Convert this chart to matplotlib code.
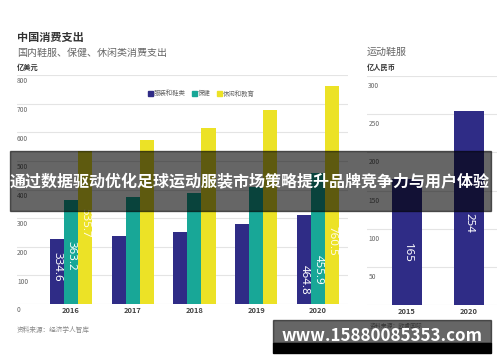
import matplotlib.pyplot as plt
from matplotlib.patches import Rectangle
import numpy as np

plt.rcParams['font.family'] = ['Noto Sans CJK SC', 'DejaVu Sans']

# 数据
years = ['2016', '2017', '2018', '2019', '2020']
apparel = [227, 238, 252, 280, 311]
health = [363.2, 375, 389, 410, 455.9]
leisure = [535.7, 573, 615, 678, 760.5]
apparel_lbl = ['334.6', '', '', '', '464.8']
health_lbl = ['363.2', '', '', '', '455.9']
leisure_lbl = ['535.7', '', '', '', '760.5']

sport_years = ['2015', '2020']
sport = [165, 254]
sport_lbl = ['165', '254']

c_blue = '#2f2c86'
c_teal = '#18a797'
c_yellow = '#ece226'
grid_c = '#e4e4e4'
txt_gray = '#666666'

W, H = 500, 362
fig = plt.figure(figsize=(5, 3.62), dpi=100)
fig.patch.set_facecolor('white')


def box(x0, x1, ytop, ybot):
    return [x0 / W, 1 - ybot / H, (x1 - x0) / W, (ybot - ytop) / H]


def ftext(x, y, s, **kw):
    fig.text(x / W, 1 - y / H, s, **kw)


# 左图
ax = fig.add_axes(box(17, 348, 75, 304))
x = np.arange(len(years))
bw = 0.227
ax.bar(x - bw, apparel, bw, color=c_blue, zorder=2)
ax.bar(x, health, bw, color=c_teal, zorder=2)
ax.bar(x + bw, leisure, bw, color=c_yellow, zorder=2)
ax.set_xlim(-0.874, 4.486)
ax.set_ylim(0, 800)
for v in range(0, 801, 100):
    ax.axhline(v, color=grid_c, lw=0.8, zorder=1)
    ax.text(0, v - 8, str(v), transform=ax.get_yaxis_transform(),
            fontsize=4.8, color=txt_gray, va='top', ha='left')
for sp in ax.spines.values():
    sp.set_visible(False)
ax.set_yticks([])
ax.set_xticks(x)
ax.set_xticklabels(years, fontsize=5.4, fontweight='bold', color='#444444')
ax.tick_params(axis='x', length=0, pad=2)

# 柱内数值位置
lbl_pos = {0: (129, 167, 282), 4: (84, 118, 220)}
for i, (yb, yt, yy) in lbl_pos.items():
    ax.text(x[i] - bw, yb, apparel_lbl[i], rotation=270, ha='center', va='center',
            fontsize=8.3, color='white', family='Noto Sans')
    ax.text(x[i], yt, health_lbl[i], rotation=270, ha='center', va='center',
            fontsize=8.3, color='white', family='Noto Sans')
    ax.text(x[i] + bw, yy, leisure_lbl[i], rotation=270, ha='center', va='center',
            fontsize=8.3, color='#fffbe6', family='Noto Sans')

# 图例
for sx, col, lab in [(148, c_blue, '服装和鞋类'), (192, c_teal, '保健'), (217, c_yellow, '休闲和教育')]:
    fig.patches.append(Rectangle((sx / W, 1 - 96 / H), 4.5 / W, 4.5 / H,
                                 transform=fig.transFigure, color=col))
    ftext(sx + 6, 93.5, lab, fontsize=4.6, color=txt_gray, va='center')

# 右图
ax2 = fig.add_axes(box(367, 497, 76, 305))
x2 = np.arange(len(sport_years))
ax2.bar(x2, sport, 0.484, color=c_blue, zorder=2)
ax2.set_xlim(-0.645, 1.452)
ax2.set_ylim(0, 300)
for v in range(0, 301, 50):
    ax2.axhline(v, color=grid_c, lw=0.8, zorder=1)
    if v > 0:
        ax2.text(0.01, v - 8, str(v), transform=ax2.get_yaxis_transform(),
                 fontsize=4.8, color=txt_gray, va='top', ha='left')
for sp in ax2.spines.values():
    sp.set_visible(False)
ax2.set_yticks([])
ax2.set_xticks(x2)
ax2.set_xticklabels(sport_years, fontsize=5.4, fontweight='bold', color='#444444')
ax2.tick_params(axis='x', length=0, pad=2)
for i, yl in enumerate([68, 108]):
    ax2.text(x2[i], yl, sport_lbl[i], rotation=270, ha='center', va='center',
             fontsize=8.3, color='white', family='Noto Sans')

# 标题
ftext(17, 37, '中国消费支出', fontsize=8, fontweight='bold', color='#333333', va='center')
ftext(17, 53, '国内鞋服、保健、休闲类消费支出', fontsize=7.2, color=txt_gray, va='center')
ftext(17, 67, '亿美元', fontsize=5.2, fontweight='bold', color='#333333', va='center')
ftext(367, 52, '运动鞋服', fontsize=7.2, color=txt_gray, va='center')
ftext(367, 67, '亿人民币', fontsize=5.2, fontweight='bold', color='#333333', va='center')
ftext(17, 330, '资料来源：经济学人智库', fontsize=4.8, color='#888888', va='center')
ftext(370, 326, '资料来源：欧睿国际', fontsize=4.2, color='#888888', va='center')

# 横幅
fig.patches.append(Rectangle((10 / W, 1 - 211 / H), 481 / W, 60 / H,
                             transform=fig.transFigure, color='black', alpha=0.6, zorder=5))
ftext(250, 182, '通过数据驱动优化足球运动服装市场策略提升品牌竞争力与用户体验',
      fontsize=11.5, fontweight='bold', color='white', ha='center', va='center', zorder=6)

fig.patches.append(Rectangle((273 / W, 1 - 343 / H), 218 / W, 23 / H,
                             transform=fig.transFigure, color='black', alpha=0.6, zorder=5))
fig.patches.append(Rectangle((273 / W, 1 - 353 / H), 218 / W, 10 / H,
                             transform=fig.transFigure, color='black', zorder=5))
ftext(382, 336, 'www.15880085353.com', fontsize=12.2, fontweight='bold',
      color='white', ha='center', va='center', zorder=6)

fig.savefig('out.png', dpi=100)
